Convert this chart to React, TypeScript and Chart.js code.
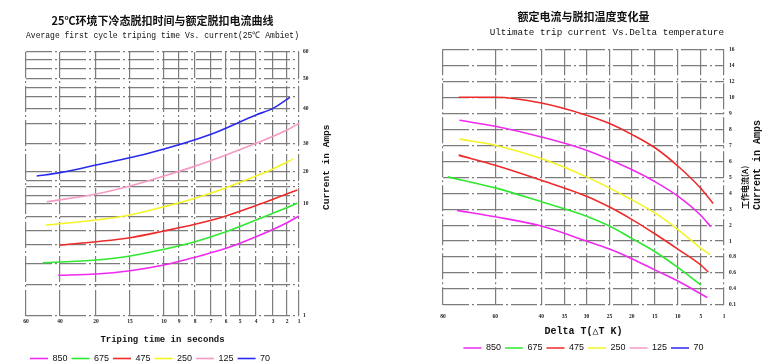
import React, { useEffect, useRef } from 'react';
import { Chart, Scale, registerables } from 'chart.js';

// ---------------- data ----------------
const SERIES = ['850', '675', '475', '250', '125', '70'];
const SERIES_COLORS = ['#f02af0', '#30e830', '#ee2a2a', '#f4f424', '#f59ac4', '#2a2aee'];

// Left chart: average first cycle tripping time (s) vs current (A)
const L_TIME_TICKS = [60, 40, 20, 15, 10, 9, 8, 7, 6, 5, 4, 3, 2, 1];
const L_CURRENT_TICKS = [1, 10, 20, 30, 40, 50, 60];
const L_CURRENT_GRID = [1, 3.5, 5.25, 6.7, 7.9, 9, 10, 12.5, 15.3, 17.2, 20, 30, 35.7, 40, 44, 47, 50, 54, 57, 60];

const L850_T = [41, 20, 15, 10, 8, 6, 4, 2, 1];
const L850_A = [4.27, 4.37, 4.64, 5.1, 5.72, 6.44, 7.37, 8.5, 9.04];
const L675_T = [50.2, 20, 15, 10, 8, 6, 4, 1.14];
const L675_A = [5.28, 5.5, 5.82, 6.36, 6.97, 7.77, 8.71, 10.2];
const L475_T = [40, 20, 15, 10, 8, 6, 4, 3, 1.14];
const L475_A = [6.7, 6.97, 7.29, 7.83, 8.37, 9.04, 9.88, 11.5, 14.4];
const L250_T = [48.2, 20, 15, 10, 8, 6, 4, 3, 1.5];
const L250_A = [8.31, 8.71, 9.12, 9.78, 11.8, 15.1, 18.75, 21.1, 24.6];
const L125_T = [47.8, 20, 15, 10, 8, 6, 4, 2, 1];
const L125_A = [10.7, 13.1, 15.6, 18.75, 22.1, 26.1, 30.2, 34.0, 35.9];
const L70_T = [53.7, 40, 20, 12, 7, 4, 3, 1.75];
const L70_A = [18.75, 19.8, 22.5, 26.9, 32.8, 38.3, 40.2, 43.9];

// Right chart: ultimate trip current (A) vs delta temperature (K)
const R_DT_TICKS = [80, 60, 40, 35, 30, 25, 20, 15, 10, 5, 1];
const R_CURRENT_TICKS = [0.1, 0.4, 0.6, 0.8, 1, 2, 3, 4, 5, 6, 7, 8, 9, 10, 12, 14, 16];

const R850_T = [74.6, 60, 40, 30, 25, 20, 15, 10, 3.9];
const R850_A = [2.92, 2.52, 1.94, 1.0, 0.9, 0.78, 0.64, 0.5, 0.24];
const R675_T = [78.2, 60, 40, 30, 25, 20, 15, 10, 5];
const R675_A = [5.02, 4.33, 3.46, 2.56, 1.94, 1.17, 0.87, 0.67, 0.45];
const R475_T = [74, 60, 40, 30, 25, 20, 15, 10, 5, 3.7];
const R475_A = [6.38, 5.75, 4.81, 3.81, 3.13, 2.36, 1.46, 0.9, 0.7, 0.61];
const R250_T = [73.7, 60, 40, 30, 20.5, 14.8, 9.7, 5, 3.4];
const R250_A = [7.38, 7.0, 6.17, 5.02, 3.67, 2.73, 1.66, 0.91, 0.83];
const R125_T = [73.7, 60, 40, 30, 20.5, 14.8, 9.7, 5, 3.3];
const R125_A = [8.56, 8.19, 7.52, 6.69, 5.54, 4.69, 3.75, 2.6, 1.9];
const R70_T = [74, 60, 40, 30, 25, 20, 14.8, 9.7, 5, 2.9];
const R70_A = [10, 10, 9.64, 8.88, 8.36, 7.68, 6.81, 5.62, 4.29, 3.36];
const R_LINE_COLORS = ['#f02af0', '#30e830', '#ee2a2a', '#f4f424', '#f02af0', '#ee2a2a'];

// ---------------- piecewise (hand-drawn paper) scale ----------------
class PiecewiseScale extends Scale {
  static id = 'piecewise';
  static defaults = {};

  _stops(): number[] {
    return (this as any).options.stops;
  }
  _fractions(): number[] {
    const o: any = (this as any).options;
    const stops = this._stops();
    const spans: number[] =
      o.spans && o.spans.length === stops.length - 1 ? o.spans : stops.slice(1).map(() => 1);
    const total = spans.reduce((a: number, b: number) => a + b, 0);
    const fr = [0];
    let acc = 0;
    for (const s of spans) {
      acc += s;
      fr.push(acc / total);
    }
    return fr;
  }
  determineDataLimits() {
    const stops = this._stops();
    (this as any).min = Math.min(...stops);
    (this as any).max = Math.max(...stops);
  }
  buildTicks() {
    const o: any = (this as any).options;
    const vals: number[] = o.gridValues || this._stops();
    return vals.map((v: number) => ({ value: v }));
  }
  getLabelForValue(v: number) {
    return String(v);
  }
  _toFraction(v: number) {
    const stops = this._stops();
    const fr = this._fractions();
    const n = stops.length;
    let seg = -1;
    for (let i = 0; i < n - 1; i++) {
      const a = stops[i];
      const b = stops[i + 1];
      if (v >= Math.min(a, b) && v <= Math.max(a, b)) {
        seg = i;
        break;
      }
    }
    if (seg < 0) {
      const inc = stops[n - 1] > stops[0];
      const beforeStart = inc ? v < stops[0] : v > stops[0];
      seg = beforeStart ? 0 : n - 2;
    }
    const a = stops[seg];
    const b = stops[seg + 1];
    return fr[seg] + ((fr[seg + 1] - fr[seg]) * (v - a)) / (b - a);
  }
  getPixelForValue(v: number) {
    return this.getPixelForDecimal(this._toFraction(v));
  }
  getValueForPixel(p: number) {
    const d = this.getDecimalForPixel(p);
    const stops = this._stops();
    const fr = this._fractions();
    for (let i = 0; i < fr.length - 1; i++) {
      if (d >= fr[i] && d <= fr[i + 1]) {
        return stops[i] + ((stops[i + 1] - stops[i]) * (d - fr[i])) / (fr[i + 1] - fr[i]);
      }
    }
    return d < 0 ? stops[0] : stops[stops.length - 1];
  }
  getPixelForTick(i: number) {
    const t = (this as any).ticks[i];
    return t ? this.getPixelForValue(t.value) : null;
  }
  getBasePixel() {
    return this.getPixelForValue((this as any).min);
  }
}

Chart.register(...registerables, PiecewiseScale);

// ---------------- shared styling ----------------
const CJK = '"Noto Sans CJK SC", "Noto Sans CJK JP", sans-serif';
const MONO = '"Liberation Mono", "DejaVu Sans Mono", monospace';
const SERIF = '"Liberation Serif", "DejaVu Serif", serif';
const GRID_COLOR = '#7c7c7c';
const GRID_DASH = [26, 3, 2, 3];
const TICK_FONT = { family: SERIF, size: 5.5, weight: 'bold' as const };

const sideTitlePlugin = {
  id: 'sideTitle',
  afterDraw(chart: any, _args: any, opts: any) {
    const { ctx, chartArea } = chart;
    const lines = (opts && opts.lines) || [];
    for (let i = 0; i < lines.length; i++) {
      const l = lines[i];
      ctx.save();
      ctx.translate(chartArea.right + l.dx, l.y);
      ctx.rotate(-Math.PI / 2);
      ctx.font = l.font;
      ctx.fillStyle = '#151515';
      ctx.textAlign = 'left';
      ctx.textBaseline = 'middle';
      ctx.fillText(l.text, 0, 0);
      ctx.restore();
    }
  },
};

function pts(xs: number[], ys: number[]) {
  return xs.map((x, i) => ({ x, y: ys[i] }));
}

function lineDs(label: string, xs: number[], ys: number[], color: string) {
  return {
    label,
    data: pts(xs, ys),
    borderColor: color,
    backgroundColor: color,
    borderWidth: 1.6,
    pointRadius: 0,
    cubicInterpolationMode: 'monotone' as const,
    fill: false,
  };
}

function legendOptions(align: 'start' | 'center', padding: number) {
  return {
    display: true,
    position: 'bottom' as const,
    fullSize: false,
    align,
    labels: {
      usePointStyle: true,
      pointStyleWidth: 18,
      padding,
      color: '#111',
      font: { family: '"Liberation Sans", Arial, sans-serif', size: 9 },
      generateLabels: () =>
        SERIES.map((s, i) => ({
          text: s,
          strokeStyle: SERIES_COLORS[i],
          fillStyle: SERIES_COLORS[i],
          lineWidth: 1.6,
          pointStyle: 'line',
          hidden: false,
          datasetIndex: i,
          fontColor: '#111',
        })),
    },
  };
}

function gridScale(extra: any) {
  return {
    type: 'piecewise',
    grid: { color: GRID_COLOR, lineWidth: 1.2, drawTicks: false },
    border: { display: false, dash: GRID_DASH },
    ...extra,
    ticks: {
      autoSkip: false,
      maxRotation: 0,
      minRotation: 0,
      font: TICK_FONT,
      color: '#222',
      ...(extra.ticks || {}),
    },
  };
}

const leftConfig: any = {
  type: 'line',
  data: {
    datasets: [
      lineDs(SERIES[0], L850_T, L850_A, SERIES_COLORS[0]),
      lineDs(SERIES[1], L675_T, L675_A, SERIES_COLORS[1]),
      lineDs(SERIES[2], L475_T, L475_A, SERIES_COLORS[2]),
      lineDs(SERIES[3], L250_T, L250_A, SERIES_COLORS[3]),
      lineDs(SERIES[4], L125_T, L125_A, SERIES_COLORS[4]),
      lineDs(SERIES[5], L70_T, L70_A, SERIES_COLORS[5]),
    ],
  },
  options: {
    responsive: false,
    animation: false,
    events: [],
    layout: { padding: { left: 26, right: 0, top: 0, bottom: 1 } },
    scales: {
      x: gridScale({
        position: 'bottom',
        stops: L_TIME_TICKS,
        spans: [34, 36, 34, 34, 15, 16, 16, 15, 14, 16, 17, 14, 12],
        afterFit: (s: any) => {
          s.height = 34;
        },
        ticks: { padding: 2, callback: (v: number) => String(v) },
        title: {
          display: true,
          text: 'Triping time in seconds',
          color: '#111',
          font: { family: MONO, size: 9, weight: 'bold' },
          padding: { top: 0, bottom: 4.6 },
        },
      }),
      y: gridScale({
        position: 'right',
        stops: L_CURRENT_TICKS,
        spans: [112, 32, 28, 35, 30, 27],
        gridValues: L_CURRENT_GRID,
        afterFit: (s: any) => {
          s.width = 93;
        },
        ticks: {
          padding: 4,
          callback: (v: number) => (L_CURRENT_TICKS.includes(v) ? String(v) : ''),
        },
      }),
    },
    plugins: {
      tooltip: { enabled: false },
      title: {
        display: true,
        fullSize: false,
        text: '25℃环境下冷态脱扣时间与额定脱扣电流曲线',
        color: '#111',
        font: { family: CJK, size: 11, weight: 'bold' },
        padding: { top: 14.4, bottom: 1 },
      },
      subtitle: {
        display: true,
        fullSize: false,
        text: 'Average first cycle triping time Vs. current(25℃ Ambiet)',
        color: '#111',
        font: { family: MONO, size: 9 },
        padding: { top: 2, bottom: 10.6 },
      },
      legend: legendOptions('start', 4),
      sideTitle: {
        lines: [{ text: 'Current in Amps', dx: 27.7, y: 210, font: `bold 9.5px ${MONO}` }],
      },
    },
  },
  plugins: [sideTitlePlugin],
};

const rightConfig: any = {
  type: 'line',
  data: {
    datasets: [
      lineDs(SERIES[0], R850_T, R850_A, R_LINE_COLORS[0]),
      lineDs(SERIES[1], R675_T, R675_A, R_LINE_COLORS[1]),
      lineDs(SERIES[2], R475_T, R475_A, R_LINE_COLORS[2]),
      lineDs(SERIES[3], R250_T, R250_A, R_LINE_COLORS[3]),
      lineDs(SERIES[4], R125_T, R125_A, R_LINE_COLORS[4]),
      lineDs(SERIES[5], R70_T, R70_A, R_LINE_COLORS[5]),
    ],
  },
  options: {
    responsive: false,
    animation: false,
    events: [],
    layout: { padding: { left: 51, right: 0, top: 0, bottom: 11.5 } },
    scales: {
      x: gridScale({
        position: 'bottom',
        stops: R_DT_TICKS,
        spans: [52, 46, 23, 22, 23, 22, 23, 23, 23, 23],
        afterFit: (s: any) => {
          s.height = 34.5;
        },
        ticks: { padding: 8, callback: (v: number) => String(v) },
        title: {
          display: true,
          text: 'Delta T(△T K)',
          color: '#111',
          font: { family: MONO, size: 10, weight: 'bold' },
          padding: { top: 0, bottom: 2.5 },
        },
      }),
      y: gridScale({
        position: 'right',
        stops: R_CURRENT_TICKS,
        afterFit: (s: any) => {
          s.width = 60;
        },
        ticks: { padding: 5, callback: (v: number) => String(v) },
      }),
    },
    plugins: {
      tooltip: { enabled: false },
      title: {
        display: true,
        fullSize: false,
        text: '额定电流与脱扣温度变化量',
        color: '#111',
        font: { family: CJK, size: 11, weight: 'bold' },
        padding: { top: 10.4, bottom: 1 },
      },
      subtitle: {
        display: true,
        fullSize: false,
        align: 'end',
        text: 'Ultimate trip current Vs.Delta temperature',
        color: '#111',
        font: { family: MONO, size: 9.3 },
        padding: { top: 2, bottom: 11.6 },
      },
      legend: legendOptions('center', 4),
      sideTitle: {
        lines: [
          { text: '工作电流(A)', dx: 21, y: 209, font: `bold 8px ${CJK}` },
          { text: 'Current in Amps', dx: 33, y: 210, font: `bold 10px ${MONO}` },
        ],
      },
    },
  },
  plugins: [sideTitlePlugin],
};

function ChartCanvas({ config }: { config: any }) {
  const ref = useRef<HTMLCanvasElement | null>(null);
  useEffect(() => {
    if (!ref.current) return;
    const chart = new Chart(ref.current, config);
    return () => chart.destroy();
  }, [config]);
  return (
    <canvas
      ref={ref}
      width={392}
      height={374}
      style={{ display: 'block', width: 392, height: 374 }}
    />
  );
}

export default function App() {
  return (
    <div
      style={{
        position: 'absolute',
        left: 0,
        top: 0,
        width: 784,
        height: 362,
        overflow: 'hidden',
        background: '#fff',
        display: 'flex',
      }}
    >
      <div style={{ width: 392, height: 362, overflow: 'hidden' }}>
        <ChartCanvas config={leftConfig} />
      </div>
      <div style={{ width: 392, height: 362, overflow: 'hidden' }}>
        <ChartCanvas config={rightConfig} />
      </div>
    </div>
  );
}
